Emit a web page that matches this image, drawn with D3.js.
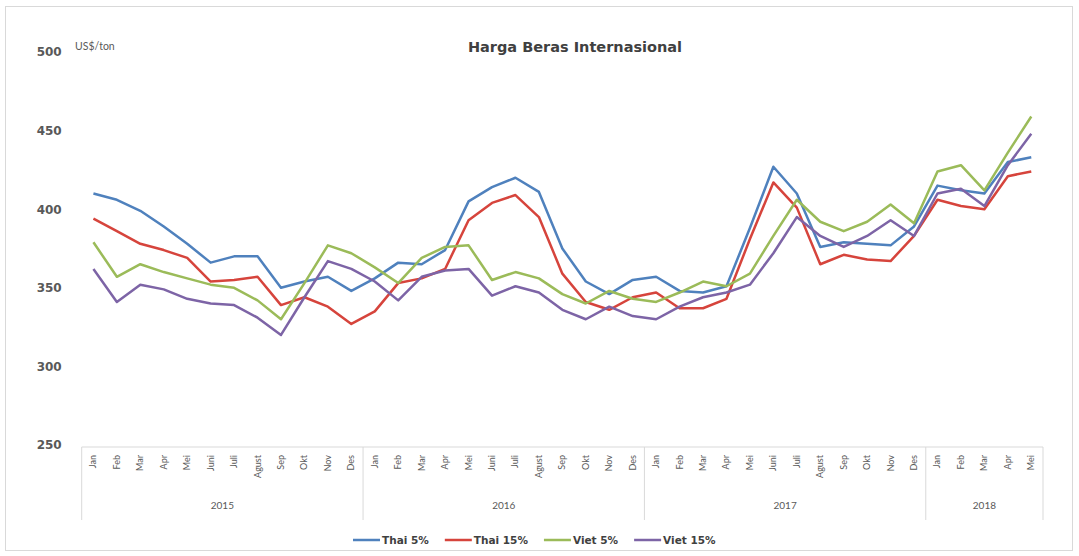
<!DOCTYPE html>
<html>
<head>
<meta charset="utf-8">
<script src="https://cdn.jsdelivr.net/npm/d3@7"></script>
<style>
  html, body { margin: 0; padding: 0; background: #fff; }
  svg { display: block; font-family: Lato, "Open Sans", sans-serif; }
</style>
</head>
<body>
<svg id="chart" width="1079" height="556"></svg>
<script>
// Monthly international rice prices (US$/ton), Jan 2015 – May 2018
const years = ["2015", "2016", "2017", "2018"];
const monthNames = ["Jan", "Feb", "Mar", "Apr", "Mei", "Juni", "Juli", "Agust", "Sep", "Okt", "Nov", "Des"];
const monthsPerYear = [12, 12, 12, 5];
const yTicks = [250, 300, 350, 400, 450, 500];

const thai5 = [410, 406, 399, 389, 378, 366, 370, 370, 350, 354, 357, 348,
               356, 366, 365, 374, 405, 414, 420, 411, 375, 354, 346, 355,
               357, 348, 347, 351, 388, 427, 410, 376, 379, 378, 377, 389,
               415, 412, 410, 430, 433];
const thai15 = [394, 386, 378, 374, 369, 354, 355, 357, 339, 344, 338, 327,
                335, 353, 356, 362, 393, 404, 409, 395, 359, 341, 336, 344,
                347, 337, 337, 343, 381, 417, 401, 365, 371, 368, 367, 383,
                406, 402, 400, 421, 424];
const viet5 = [379, 357, 365, 360, 356, 352, 350, 342, 330, 353, 377, 372,
               363, 353, 369, 376, 377, 355, 360, 356, 346, 340, 348, 343,
               341, 347, 354, 351, 359, 383, 406, 392, 386, 392, 403, 391,
               424, 428, 412, 436, 459];
const viet15 = [362, 341, 352, 349, 343, 340, 339, 331, 320, 344, 367, 362,
                354, 342, 357, 361, 362, 345, 351, 347, 336, 330, 338, 332,
                330, 338, 344, 347, 352, 372, 395, 383, 376, 383, 393, 383,
                410, 413, 402, 428, 448];

const seriesNames = ["Thai 5%", "Thai 15%", "Viet 5%", "Viet 15%"];
const seriesColors = ["#4f81bd", "#d6443c", "#9bbb59", "#7d64a6"];
const seriesValues = [thai5, thai15, viet5, viet15];

// Flatten the year/month hierarchy into one category list
const categories = [];
years.forEach((yr, yi) => {
  for (let m = 0; m < monthsPerYear[yi]; m++) categories.push({ year: yr, month: monthNames[m], key: yr + "-" + m });
});

const svg = d3.select("#chart");
const W = 1079, H = 556;
const boldFont = "'DejaVu Sans', Verdana, sans-serif";

// outer frame
svg.append("rect").attr("x", 5.5).attr("y", 6.5).attr("width", W - 12).attr("height", H - 12)
  .attr("fill", "#fff").attr("stroke", "#d9d9d9").attr("stroke-width", 1);

const x = d3.scaleBand().domain(categories.map(d => d.key)).range([81.7, 1043]).padding(0);
const y = d3.scaleLinear().domain([250, 500]).range([445, 52]);

// y axis labels only
const yAxis = svg.append("g").attr("transform", "translate(81.7,0)")
  .call(d3.axisLeft(y).tickValues(yTicks).tickSize(0).tickPadding(20).tickFormat(d3.format("d")));
yAxis.select(".domain").remove();
yAxis.selectAll("text").attr("font-family", boldFont).attr("font-size", 12)
  .attr("font-weight", "bold").attr("fill", "#595959");

// unit and title
svg.append("text").attr("x", 75).attr("y", 50).attr("font-size", 10.5).attr("fill", "#595959").text("US$/ton");
svg.append("text").attr("x", 575).attr("y", 52).attr("text-anchor", "middle").attr("font-family", boldFont)
  .attr("font-size", 14.5).attr("font-weight", "bold").attr("fill", "#404040").text("Harga Beras Internasional");

// category axis: baseline, month labels, year groups
const axisY = 447;
svg.append("line").attr("x1", x.range()[0]).attr("x2", x.range()[1]).attr("y1", axisY).attr("y2", axisY)
  .attr("stroke", "#d9d9d9").attr("stroke-width", 1);

svg.append("g").selectAll("text").data(categories).join("text")
  .attr("transform", d => `translate(${x(d.key) + x.bandwidth() / 2 + 3},${axisY + 8}) rotate(-90)`)
  .attr("text-anchor", "end").attr("font-size", 9).attr("fill", "#595959").text(d => d.month);

let start = 0;
const bounds = [x.range()[0]];
years.forEach((yr, yi) => {
  const first = categories[start].key;
  const last = categories[start + monthsPerYear[yi] - 1].key;
  const x0 = x(first), x1 = x(last) + x.bandwidth();
  bounds.push(x1);
  svg.append("text").attr("x", (x0 + x1) / 2).attr("y", 509).attr("text-anchor", "middle")
    .attr("font-size", 10).attr("fill", "#595959").text(yr);
  start += monthsPerYear[yi];
});
svg.append("g").selectAll("line").data(bounds).join("line")
  .attr("x1", d => d).attr("x2", d => d).attr("y1", axisY).attr("y2", 520)
  .attr("stroke", "#d9d9d9").attr("stroke-width", 1);

// series lines
const line = d3.line().x((v, i) => x(categories[i].key) + x.bandwidth() / 2).y(v => y(v));
seriesValues.forEach((vals, si) => {
  svg.append("path").datum(vals).attr("d", line).attr("fill", "none")
    .attr("stroke", seriesColors[si]).attr("stroke-width", 2.5).attr("stroke-linejoin", "round");
});

// legend
const legend = svg.append("g");
let lx = 353;
const ly = 540;
seriesNames.forEach((name, si) => {
  legend.append("line").attr("x1", lx).attr("x2", lx + 27).attr("y1", ly).attr("y2", ly)
    .attr("stroke", seriesColors[si]).attr("stroke-width", 2.5);
  const t = legend.append("text").attr("x", lx + 29).attr("y", ly + 4).attr("font-family", boldFont)
    .attr("font-size", 10.5).attr("font-weight", "bold").attr("fill", "#404040").text(name);
  lx += 29 + t.node().getComputedTextLength() + 16;
});
</script>
</body>
</html>
